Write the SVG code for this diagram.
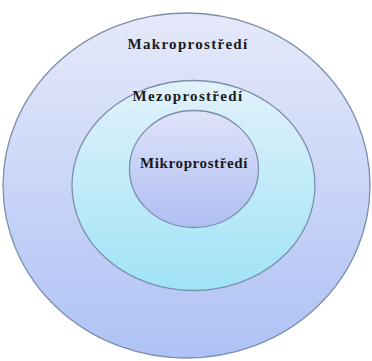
<svg xmlns="http://www.w3.org/2000/svg" width="372" height="361" viewBox="0 0 372 361">
<defs>
<linearGradient id="gOuter" x1="0" y1="0" x2="0" y2="1">
<stop offset="0" stop-color="#e6e9fa"/>
<stop offset="1" stop-color="#aec2f5"/>
</linearGradient>
<linearGradient id="gMid" x1="0" y1="0" x2="0" y2="1">
<stop offset="0" stop-color="#e2f2fb"/>
<stop offset="1" stop-color="#9fe3f6"/>
</linearGradient>
<linearGradient id="gInner" x1="0" y1="0" x2="0" y2="1">
<stop offset="0" stop-color="#e0e3f9"/>
<stop offset="1" stop-color="#aebff3"/>
</linearGradient>
</defs>
<style>
.ring{stroke:#7b8eab;stroke-width:1.3}
.lbl{font-weight:bold;font-size:15px;fill:#1a1a1a;text-anchor:middle;letter-spacing:1.3px}
</style>
<rect width="372" height="361" fill="#ffffff"/>
<g id="makro">
<ellipse class="ring" cx="186.5" cy="185.5" rx="183.5" ry="172.5" fill="url(#gOuter)"/>
<text class="lbl" x="188" y="49" font-family="'Liberation Serif', 'DejaVu Serif', serif">Makroprostředí</text>
</g>
<g id="mezo">
<ellipse class="ring" cx="193.5" cy="185.5" rx="121.5" ry="105" fill="url(#gMid)"/>
<text class="lbl" x="188" y="101" font-family="'Liberation Serif', 'DejaVu Serif', serif">Mezoprostředí</text>
</g>
<g id="mikro">
<ellipse class="ring" cx="194" cy="169" rx="64.5" ry="58.5" fill="url(#gInner)"/>
<text class="lbl" x="194" y="168" font-family="'Liberation Serif', 'DejaVu Serif', serif" style="letter-spacing:0.6px">Mikroprostředí</text>
</g>
<g id="connectors"/>
</svg>
